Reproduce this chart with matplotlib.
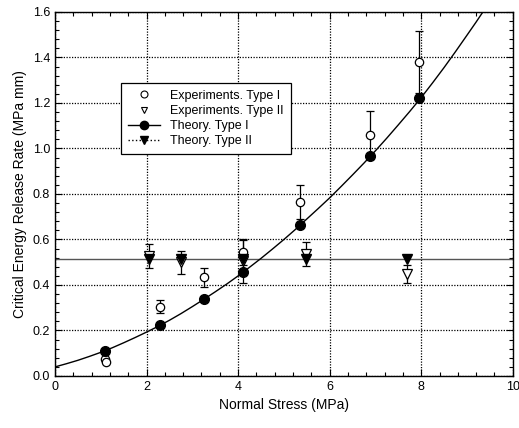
import matplotlib
matplotlib.use("Agg")
import matplotlib.pyplot as plt
from matplotlib.lines import Line2D
from matplotlib.ticker import MultipleLocator

plt.rcParams['font.family'] = ['Liberation Sans', 'DejaVu Sans']

# experiments, type I (open circles)
exp1_x = [1.10, 1.12, 2.30, 3.25, 4.10, 5.35, 6.88, 7.95]
exp1_y = [0.075, 0.063, 0.305, 0.433, 0.543, 0.765, 1.060, 1.380]
exp1_err = [0.0, 0.0, 0.030, 0.042, 0.055, 0.075, 0.105, 0.135]

# experiments, type II (open triangles)
exp2_x = [2.05, 2.75, 4.10, 5.48, 7.68]
exp2_y = [0.528, 0.500, 0.505, 0.536, 0.450]
exp2_err = [0.052, 0.050, 0.095, 0.052, 0.040]

# theory, type I (filled circles) and curve
th1_x = [1.10, 2.30, 3.25, 4.10, 5.35, 6.88, 7.95]
th1_y = [0.110, 0.224, 0.338, 0.456, 0.665, 0.968, 1.222]
curve_x = [0.0, 0.25, 0.5, 0.75, 1.0, 1.25, 1.5, 1.75, 2.0, 2.25, 2.5, 2.75,
           3.0, 3.25, 3.5, 3.75, 4.0, 4.25, 4.5, 4.75, 5.0, 5.25, 5.5, 5.75,
           6.0, 6.25, 6.5, 6.75, 7.0, 7.25, 7.5, 7.75, 8.0, 8.25, 8.5, 8.75,
           9.0, 9.2, 9.4]
curve_y = [0.040, 0.054, 0.069, 0.086, 0.104, 0.124, 0.146, 0.169, 0.193,
           0.218, 0.245, 0.274, 0.305, 0.337, 0.370, 0.404, 0.440, 0.478,
           0.517, 0.558, 0.600, 0.644, 0.690, 0.736, 0.783, 0.833, 0.884,
           0.936, 0.990, 1.046, 1.104, 1.163, 1.224, 1.289, 1.356, 1.426,
           1.498, 1.556, 1.616]

# theory, type II (filled triangles, constant level)
th2_x = [2.05, 2.75, 4.10, 5.48, 7.68]
th2_level = 0.515

fig = plt.figure(figsize=(5.19, 4.28), dpi=100)
ax = fig.add_axes([0.106, 0.1215, 0.882, 0.8505])

ax.axhline(th2_level, color='#555555', lw=1.0, zorder=2)
ax.plot(curve_x, curve_y, color='black', lw=1.0, zorder=2)

ax.errorbar(exp1_x, exp1_y, yerr=exp1_err, fmt='o', mfc='white', mec='black',
            ms=6, mew=0.9, ecolor='black', elinewidth=0.9, capsize=3,
            capthick=0.9, zorder=3)
ax.errorbar(exp2_x, exp2_y, yerr=exp2_err, fmt='v', mfc='white', mec='black',
            ms=6.5, mew=0.9, ecolor='black', elinewidth=0.9, capsize=3,
            capthick=0.9, zorder=3)

ax.plot(th1_x, th1_y, 'o', color='black', ms=7, zorder=4)
ax.plot(th2_x, [th2_level] * len(th2_x), 'v', color='black', ms=6.5, zorder=4)

ax.set_xlim(0, 10)
ax.set_ylim(0, 1.6)
ax.xaxis.set_major_locator(MultipleLocator(2))
ax.xaxis.set_minor_locator(MultipleLocator(0.4))
ax.yaxis.set_major_locator(MultipleLocator(0.2))
ax.yaxis.set_minor_locator(MultipleLocator(0.04))
ax.yaxis.set_major_formatter(plt.FormatStrFormatter('%.1f'))
ax.tick_params(which='both', direction='in', top=True, right=True,
               labelsize=9, width=0.8)
ax.tick_params(which='major', length=5)
ax.tick_params(which='minor', length=3)
ax.grid(True, which='major', color='black', linestyle=(0, (1, 1.2)), lw=0.9)
for s in ax.spines.values():
    s.set_linewidth(1.0)

ax.set_xlabel('Normal Stress (MPa)', fontsize=10)
ax.set_ylabel('Critical Energy Release Rate (MPa mm)', fontsize=10)

handles = [
    Line2D([], [], ls='none', marker='o', mfc='white', mec='black', ms=5, mew=0.8),
    Line2D([], [], ls='none', marker='v', mfc='white', mec='black', ms=5, mew=0.8),
    Line2D([], [], ls='-', color='black', marker='o', ms=6, lw=1.0),
    Line2D([], [], ls=':', color='black', marker='v', ms=6, lw=1.0),
]
labels = ['Experiments. Type I', 'Experiments. Type II',
          'Theory. Type I', 'Theory. Type II']
leg = ax.legend(handles, labels, loc='upper left', bbox_to_anchor=(0.144, 0.805),
                borderaxespad=0, fontsize=9, fancybox=False, framealpha=1,
                edgecolor='black', handlelength=2.6, labelspacing=0.25,
                borderpad=0.55)
leg.get_frame().set_linewidth(0.9)

fig.savefig('out.png', dpi=100)
